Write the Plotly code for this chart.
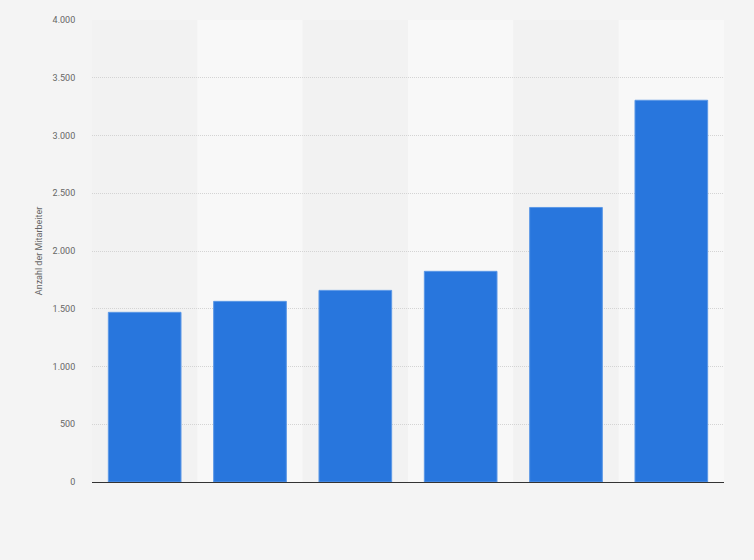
import plotly.graph_objects as go

# Values (no category labels are shown on the x axis)
categories = ["1", "2", "3", "4", "5", "6"]
employees = [1469, 1564, 1659, 1824, 2377, 3305]

y_ticks = [0, 500, 1000, 1500, 2000, 2500, 3000, 3500, 4000]

fig = go.Figure()

fig.add_trace(go.Bar(
    x=categories,
    y=employees,
    marker=dict(color="#2876dd", line=dict(color="#5c98e6", width=1)),
    width=0.69,
    hoverinfo="y",
))

# alternating column bands behind the bars
for i in range(len(categories)):
    fig.add_shape(
        type="rect", xref="x", yref="paper",
        x0=i - 0.5, x1=i + 0.5, y0=0, y1=1,
        fillcolor="#f2f2f2" if i % 2 == 0 else "#f8f8f8",
        line=dict(width=0), layer="below",
    )

fig.update_layout(
    width=754, height=560,
    margin=dict(l=92, r=30, t=20, b=78),
    paper_bgcolor="#f4f4f4",
    plot_bgcolor="#f4f4f4",
    separators=",.",
    showlegend=False,
    bargap=0.31,
    font=dict(family="Roboto, Arial, sans-serif", size=9, color="#666666"),
    xaxis=dict(
        showticklabels=False,
        showgrid=False,
        showline=True,
        linecolor="#333333",
        linewidth=1.2,
        ticks="",
        range=[-0.5, 5.5],
    ),
    yaxis=dict(
        range=[0, 4000],
        tickvals=y_ticks,
        tickformat=",d",
        showgrid=True,
        gridcolor="#d4d4d4",
        griddash="1px,1px",
        gridwidth=1,
        zeroline=False,
        ticks="outside",
        ticklen=14,
        tickcolor="rgba(0,0,0,0)",
        title=dict(text="Anzahl der Mitarbeiter", standoff=8,
                   font=dict(size=9, color="#666666")),
    ),
)

# drop the browser's default body margin so the figure fills the window
fig.write_html("out.html",
               config={"displayModeBar": False},
               post_script="document.body.style.margin='0';"
                           "document.body.style.background='#f4f4f4';")
